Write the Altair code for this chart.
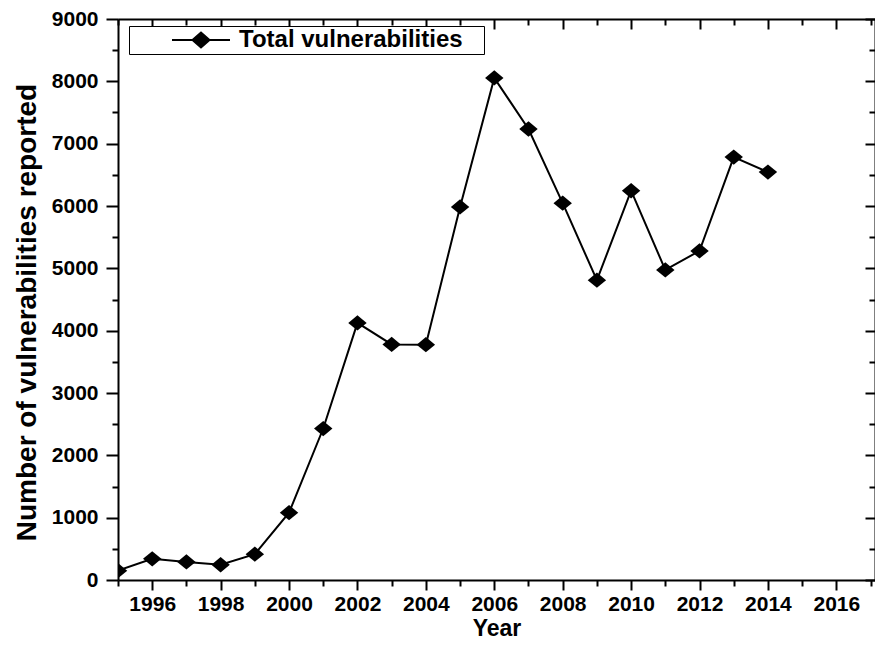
import altair as alt
import pandas as pd

# ---- data ----
years = [1995, 1996, 1997, 1998, 1999, 2000, 2001, 2002, 2003, 2004,
         2005, 2006, 2007, 2008, 2009, 2010, 2011, 2012, 2013, 2014]
vulns = [150, 340, 290, 245, 415, 1080, 2430, 4125, 3780, 3775,
         5985, 8055, 7235, 6045, 4810, 6245, 4975, 5280, 6785, 6545]
series_name = "Total vulnerabilities"

x_major = [1996, 1998, 2000, 2002, 2004, 2006, 2008, 2010, 2012, 2014, 2016]
x_minor = [1995, 1997, 1999, 2001, 2003, 2005, 2007, 2009, 2011, 2013, 2015, 2017]
y_major = [0, 1000, 2000, 3000, 4000, 5000, 6000, 7000, 8000, 9000]
y_minor = [500, 1500, 2500, 3500, 4500, 5500, 6500, 7500, 8500]

df = pd.DataFrame({"year": years, "count": vulns, "series": series_name})

W, H = 757, 561
FONT = "Liberation Sans"
DIAMOND = "M-1,0L0,-0.83L1,0L0,0.83Z"
LEGEND_SYMBOL = "M-6.8,0M-2.9,0L2.9,0M-0.85,0L0,-0.75L0.85,0L0,0.75ZM27.7,0"

xscale = alt.Scale(domain=[1995, 2017.13], nice=False, zero=False)
yscale = alt.Scale(domain=[0, 9000], nice=False, zero=False)


def ax(**kw):
    base = dict(grid=False, tickColor="black", tickWidth=2, domainColor="black",
                domainWidth=2, labelColor="black", titleColor="black",
                labelFlush=False, labelOverlap=False)
    base.update(kw)
    return alt.Axis(**base)


x_bottom = ax(orient="bottom", values=x_major, format="d", tickSize=10,
              labelFont=FONT, labelFontSize=21, labelFontWeight="bold",
              labelPadding=3, title="Year", titleFont=FONT, titleFontSize=23,
              titleFontWeight="bold", titleY=55.7, titleBaseline="alphabetic")
y_left = ax(orient="left", values=y_major, format="d", tickSize=12,
            labelFont=FONT, labelFontSize=21, labelFontWeight="bold",
            labelPadding=8, title="Number of vulnerabilities reported",
            titleFont=FONT, titleFontSize=28, titleFontWeight="bold",
            titlePadding=10, titleY=293)
x_bottom_minor = ax(orient="bottom", values=x_minor, tickSize=6, labels=False,
                    domain=False, title=None)
y_left_minor = ax(orient="left", values=y_minor, tickSize=6, labels=False,
                  domain=False, title=None)
x_top = ax(orient="bottom", offset=-H, values=x_major, tickSize=10, labels=False,
           domain=True, title=None)
y_right = ax(orient="left", offset=-W, values=y_major, tickSize=10, labels=False,
             domain=True, title=None)
x_top_minor = ax(orient="bottom", offset=-H, values=x_minor, tickSize=6,
                 labels=False, domain=False, title=None)
y_right_minor = ax(orient="left", offset=-W, values=y_minor, tickSize=6,
                   labels=False, domain=False, title=None)

base = alt.Chart(df)

line = base.mark_line(color="black", strokeWidth=2, clip=True).encode(
    x=alt.X("year:Q", scale=xscale, axis=x_bottom),
    y=alt.Y("count:Q", scale=yscale, axis=y_left),
)

points = base.mark_point(shape=DIAMOND, filled=True, size=340, opacity=1,
                         clip=True).encode(
    x=alt.X("year:Q", scale=xscale, axis=None),
    y=alt.Y("count:Q", scale=yscale, axis=None),
    color=alt.Color(
        "series:N",
        scale=alt.Scale(range=["black"]),
        legend=alt.Legend(
            title=None, orient="none", legendX=11, legendY=7, padding=2,
            strokeColor="black", fillColor="white",
            symbolType=LEGEND_SYMBOL, symbolSize=400, symbolOffset=58,
            symbolStrokeColor="black", symbolStrokeWidth=2, symbolOpacity=1,
            labelOffset=26, labelFont=FONT, labelFontSize=24,
            labelFontWeight="bold", labelColor="black", labelLimit=600,
        ),
    ),
)

minor = base.mark_point(opacity=0).encode(
    x=alt.X("year:Q", scale=xscale, axis=x_bottom_minor),
    y=alt.Y("count:Q", scale=yscale, axis=y_left_minor),
)
top = base.mark_point(opacity=0).encode(
    x=alt.X("year:Q", scale=xscale, axis=x_top),
    y=alt.Y("count:Q", scale=yscale, axis=y_right),
)
top_minor = base.mark_point(opacity=0).encode(
    x=alt.X("year:Q", scale=xscale, axis=x_top_minor),
    y=alt.Y("count:Q", scale=yscale, axis=y_right_minor),
)

chart = (
    alt.layer(line, points, minor, top, top_minor)
    .resolve_axis(x="independent", y="independent")
    .properties(
        width=W, height=H,
        autosize=alt.AutoSizeParams(type="none"),
        padding={"left": 110, "top": 11, "right": 0, "bottom": 61},
        background="white",
    )
    .configure_view(stroke="transparent")
)

chart.save("out.html", embed_options={"renderer": "svg", "actions": False})
